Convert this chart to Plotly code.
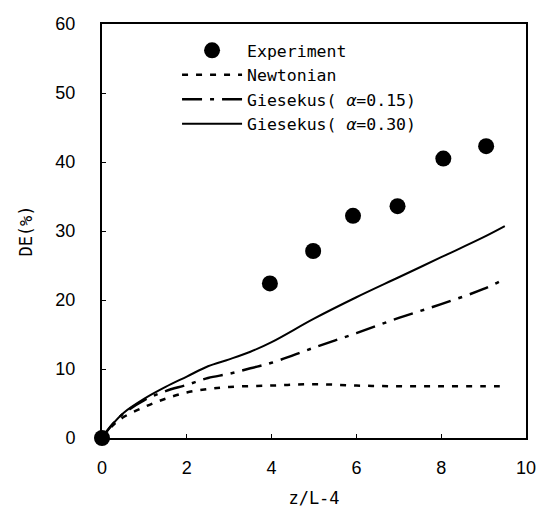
import plotly.graph_objects as go

# Experiment
exp_x = [0, 3.96, 4.98, 5.92, 6.97, 8.05, 9.06]
exp_y = [0, 22.4, 27.1, 32.2, 33.6, 40.5, 42.3]

# Newtonian
newt_x = [0, 0.25, 0.5, 1.0, 1.5, 2.0, 2.5, 3.0, 4.0, 5.0, 6.0, 7.0, 8.0, 9.0, 9.5]
newt_y = [0, 1.8, 3.0, 4.5, 5.7, 6.6, 7.1, 7.4, 7.6, 7.8, 7.6, 7.5, 7.5, 7.5, 7.5]

# Giesekus alpha=0.15
g15_x = [0, 0.25, 0.5, 1.0, 1.5, 2.0, 2.5, 3.0, 3.5, 4.0, 5.0, 6.0, 7.0, 8.0, 9.0, 9.45]
g15_y = [0, 2.0, 3.5, 5.5, 6.8, 7.7, 8.7, 9.3, 10.1, 10.9, 13.1, 15.2, 17.4, 19.4, 21.6, 22.9]

# Giesekus alpha=0.30
g30_x = [0, 0.25, 0.5, 1.0, 1.5, 2.0, 2.5, 3.0, 3.5, 4.0, 5.0, 6.0, 7.0, 8.0, 9.0, 9.5]
g30_y = [0, 2.0, 3.6, 5.7, 7.4, 8.9, 10.4, 11.4, 12.5, 13.9, 17.3, 20.4, 23.3, 26.2, 29.1, 30.7]

x_ticks = [0, 2, 4, 6, 8, 10]
y_ticks = [0, 10, 20, 30, 40, 50, 60]

MONO = "DejaVu Sans Mono, monospace"
SANS = "Liberation Sans, Arial, sans-serif"

fig = go.Figure()
fig.add_trace(go.Scatter(x=exp_x, y=exp_y, mode="markers", name="Experiment",
                         marker=dict(size=16, color="black"), cliponaxis=False))
fig.add_trace(go.Scatter(x=newt_x, y=newt_y, mode="lines", name="Newtonian",
                         line=dict(color="black", width=2.5, dash="6px,8px", shape="spline")))
fig.add_trace(go.Scatter(x=g15_x, y=g15_y, mode="lines", name="Giesekus( <i>α</i>=0.15)",
                         line=dict(color="black", width=2.5, dash="20px,8px,4px,8px", shape="spline")))
fig.add_trace(go.Scatter(x=g30_x, y=g30_y, mode="lines", name="Giesekus( <i>α</i>=0.30)",
                         line=dict(color="black", width=2, shape="spline")))

axis_common = dict(showgrid=False, zeroline=False, showline=True, linecolor="black",
                   linewidth=2, mirror=True, ticks="inside", ticklen=4, tickcolor="black",
                   tickwidth=1, automargin=False,
                   tickfont=dict(family=SANS, size=18, color="black"))

fig.update_layout(
    width=538, height=510,
    margin=dict(l=102, r=12, t=24, b=72),
    paper_bgcolor="white", plot_bgcolor="white",
    font=dict(family=SANS, size=17, color="black"),
    xaxis=dict(range=[0, 10], tickvals=x_ticks, ticklabelstandoff=12,
               title=dict(text="z/L-4", standoff=16, font=dict(family=MONO, size=17)),
               **axis_common),
    yaxis=dict(range=[0, 60], tickvals=y_ticks, ticklabelstandoff=21,
               title=dict(text="DE(%)", standoff=18, font=dict(family=MONO, size=17)),
               **axis_common),
    legend=dict(x=0.177, y=0.978, xanchor="left", yanchor="top", bgcolor="rgba(0,0,0,0)",
                borderwidth=0, font=dict(family=MONO, size=16.5), tracegroupgap=0, itemwidth=60),
    showlegend=True,
)

fig.write_html("out.html", config={"displayModeBar": False},
               post_script="document.body.style.margin='0';document.body.style.overflow='hidden';")
